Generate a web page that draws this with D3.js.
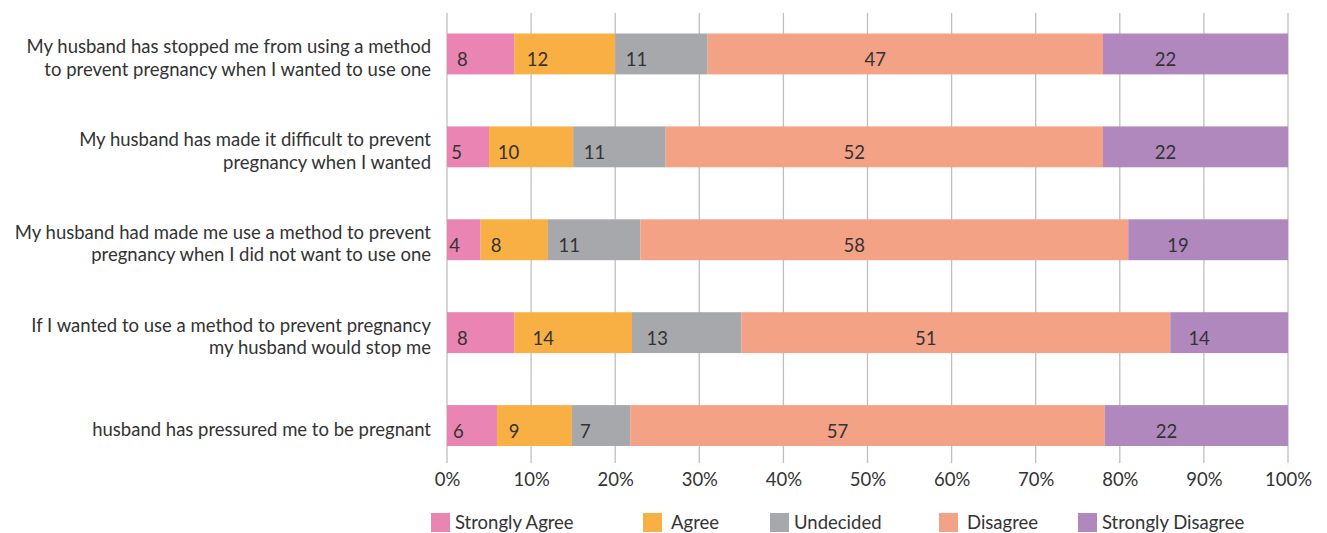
<!DOCTYPE html>
<html>
<head>
<meta charset="utf-8">
<script src="https://cdn.jsdelivr.net/npm/d3@7"></script>
<style>
  html, body { margin: 0; padding: 0; background: #fff; }
  svg { display: block; font-family: Lato, "Open Sans", sans-serif; }
</style>
</head>
<body>
<svg id="chart" width="1327" height="533"></svg>
<script>
// Survey statements (top to bottom), each may wrap over two lines
const statements = [
  ["My husband has stopped me from using a method", "to prevent pregnancy when I wanted to use one"],
  ["My husband has made it difficult to prevent", "pregnancy when I wanted"],
  ["My husband had made me use a method to prevent", "pregnancy when I did not want to use one"],
  ["If I wanted to use a method to prevent pregnancy", "my husband would stop me"],
  ["husband has pressured me to be pregnant"]
];

// Response categories
const responses = ["Strongly Agree", "Agree", "Undecided", "Disagree", "Strongly Disagree"];

// Percent of respondents per statement, one array per response
const stronglyAgree    = [8, 5, 4, 8, 6];
const agree            = [12, 10, 8, 14, 9];
const undecided        = [11, 11, 11, 13, 7];
const disagree         = [47, 52, 58, 51, 57];
const stronglyDisagree = [22, 22, 19, 14, 22];

const tickValues = [0, 0.1, 0.2, 0.3, 0.4, 0.5, 0.6, 0.7, 0.8, 0.9, 1.0];

const colors = ["#E984B3", "#F8AF43", "#A7A8AB", "#F4A285", "#B088BE"];

const seriesValues = [stronglyAgree, agree, undecided, disagree, stronglyDisagree];
const rows = statements.map((s, i) => {
  const r = { id: i };
  responses.forEach((k, j) => { r[k] = seriesValues[j][i]; });
  return r;
});

const FONT = "18.5px";
const svg = d3.select("#chart");
const left = 447, right = 1288;

const x = d3.scaleLinear().domain([0, 1]).range([left, right]);
const y = d3.scaleBand()
  .domain(rows.map(d => d.id))
  .range([7.5, 472])
  .paddingInner(0.56)
  .paddingOuter(0.28);

const color = d3.scaleOrdinal().domain(responses).range(colors);

// 100% stacked layout
const stacked = d3.stack().keys(responses).offset(d3.stackOffsetExpand)(rows);

// vertical gridlines
svg.append("g")
  .selectAll("line")
  .data(tickValues)
  .join("line")
  .attr("x1", d => x(d)).attr("x2", d => x(d))
  .attr("y1", 13).attr("y2", 463)
  .attr("stroke", "#BFBFBF")
  .attr("stroke-width", 1.3);

// bars
const layers = svg.append("g")
  .selectAll("g")
  .data(stacked)
  .join("g")
  .attr("fill", d => color(d.key));

layers.selectAll("rect")
  .data(d => d)
  .join("rect")
  .attr("x", d => x(d[0]))
  .attr("y", d => y(d.data.id))
  .attr("width", d => x(d[1]) - x(d[0]))
  .attr("height", y.bandwidth());

// value labels, set a little left of each segment's middle
layers.each(function(layer) {
  d3.select(this).selectAll("text")
    .data(layer)
    .join("text")
    .attr("x", d => {
      const w = x(d[1]) - x(d[0]);
      return (x(d[0]) + x(d[1])) / 2 - Math.min(30, w * 0.27);
    })
    .attr("y", d => y(d.data.id) + y.bandwidth() / 2 + 6)
    .attr("dy", "0.35em")
    .attr("text-anchor", "middle")
    .attr("fill", "#333")
    .style("font-size", FONT)
    .text(d => d.data[layer.key]);
});

// category labels
const cat = svg.append("g")
  .selectAll("text")
  .data(rows)
  .join("text")
  .attr("text-anchor", "end")
  .attr("fill", "#333")
  .style("font-size", FONT)
  .attr("x", 431);

cat.each(function(d) {
  const lines = statements[d.id];
  const lh = 22.5;
  const cy = y(d.id) + y.bandwidth() / 2 + 4;
  d3.select(this).selectAll("tspan")
    .data(lines)
    .join("tspan")
    .attr("x", 431)
    .attr("y", (l, i) => cy - (lines.length - 1) * lh / 2 + i * lh)
    .attr("dy", "0.35em")
    .text(l => l);
});

// x axis tick labels
const axis = d3.axisBottom(x)
  .tickValues(tickValues)
  .tickFormat(d3.format(".0%"))
  .tickSize(0)
  .tickPadding(0);

const ax = svg.append("g")
  .attr("transform", "translate(0,473)")
  .call(axis);
ax.select(".domain").remove();
ax.selectAll("text")
  .attr("fill", "#333")
  .style("font-size", FONT)
  .style("font-family", "Lato, 'Open Sans', sans-serif");

// legend
const legendX = [431, 643, 770, 939, 1078];
const legend = svg.append("g")
  .selectAll("g")
  .data(responses)
  .join("g")
  .attr("transform", (d, i) => `translate(${legendX[i]},513)`);

legend.append("rect")
  .attr("width", 19)
  .attr("height", 19)
  .attr("fill", d => color(d));

legend.append("text")
  .attr("x", d => d === "Agree" || d === "Disagree" ? 28 : 24)
  .attr("y", 9.5)
  .attr("dy", "0.35em")
  .attr("fill", "#333")
  .style("font-size", FONT)
  .text(d => d);
</script>
</body>
</html>
